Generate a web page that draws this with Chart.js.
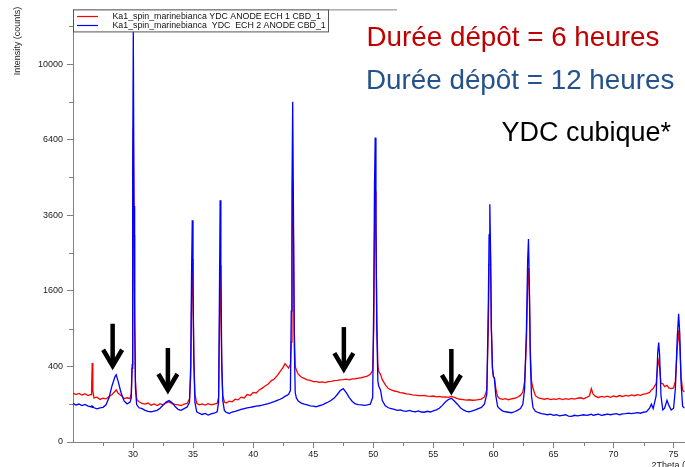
<!DOCTYPE html>
<html><head><meta charset="utf-8">
<script src="https://cdn.jsdelivr.net/npm/chart.js@4/dist/chart.umd.min.js"></script>
<style>html,body{margin:0;padding:0;background:#fff}canvas{display:block}</style>
</head><body>
<canvas id="c" width="685" height="467"></canvas>
<script>
// 2Theta positions (degrees)
const twoTheta = [
25.00,25.25,25.50,25.75,26.00,26.25,26.50,26.55,26.60,26.65,26.75,27.00,27.25,27.50,27.75,28.00,28.25,28.50,28.60,28.75,
29.00,29.25,29.50,29.75,29.85,29.92,29.97,30.02,30.08,30.13,30.20,30.30,30.50,30.75,31.00,31.25,31.50,31.75,32.00,32.25,
32.50,32.75,33.00,33.25,33.50,33.75,34.00,34.25,34.50,34.70,34.80,34.87,34.93,34.99,35.06,35.15,35.30,35.50,35.75,36.00,
36.25,36.50,36.75,37.00,37.12,37.19,37.25,37.31,37.38,37.47,37.60,37.75,38.00,38.25,38.50,38.75,39.00,39.25,39.50,39.75,
40.00,40.25,40.50,40.75,41.00,41.25,41.50,41.75,42.00,42.25,42.50,42.65,42.80,42.95,43.10,43.17,43.23,43.29,43.35,43.42,
43.50,43.60,43.75,44.00,44.25,44.50,44.75,45.00,45.25,45.50,45.75,46.00,46.25,46.50,46.75,47.00,47.25,47.50,47.75,48.00,
48.25,48.50,48.75,49.00,49.25,49.50,49.75,49.95,50.04,50.10,50.16,50.22,50.29,50.38,50.45,50.60,50.75,51.00,51.25,51.50,
51.75,52.00,52.25,52.50,52.75,53.00,53.25,53.50,53.75,54.00,54.25,54.50,54.75,55.00,55.25,55.50,55.75,56.00,56.25,56.50,
56.75,57.00,57.25,57.50,57.75,58.00,58.25,58.50,58.75,59.00,59.25,59.45,59.58,59.64,59.70,59.76,59.83,59.92,60.00,60.08,
60.20,60.35,60.50,60.75,61.00,61.25,61.50,61.75,62.00,62.25,62.45,62.60,62.75,62.85,62.92,62.99,63.07,63.17,63.30,63.50,
63.75,64.00,64.25,64.50,64.75,65.00,65.25,65.50,65.75,66.00,66.25,66.50,66.75,67.00,67.25,67.50,67.75,68.00,68.15,68.30,
68.50,68.75,69.00,69.25,69.50,69.75,70.00,70.25,70.50,70.75,71.00,71.25,71.50,71.75,72.00,72.25,72.50,72.75,73.00,73.15,
73.30,73.55,73.68,73.76,73.84,73.95,74.10,74.25,74.45,74.60,74.80,75.00,75.15,75.30,75.42,75.52,75.62,75.75,75.90
];
// Intensity (counts), deposition 6 h (red)
const counts6h = [
168,158,165,154,163,151,158,205,436,185,136,141,127,135,130,144,158,180,190,168,
152,132,137,131,165,420,2600,6900,3000,900,260,128,113,104,101,106,95,101,93,103,
97,107,112,103,99,96,93,101,104,130,300,1300,2344,1500,500,160,105,97,101,95,
103,97,101,104,140,800,2194,1400,400,150,112,106,117,113,128,124,141,136,158,152,
172,168,190,203,220,236,262,278,308,348,392,429,405,382,420,700,2600,4750,3200,900,
400,360,322,296,283,270,266,256,255,249,253,247,256,257,263,265,270,272,276,271,
279,280,285,289,297,304,321,360,900,2800,4400,3100,1100,420,350,320,272,228,200,190,
182,178,171,168,162,160,155,154,151,150,152,147,146,148,143,145,141,143,139,145,
139,132,128,126,123,125,122,123,126,129,142,190,900,2200,3054,2400,900,380,300,290,
200,145,133,127,132,125,130,134,140,152,175,260,700,1700,2120,1600,600,260,200,150,
136,132,128,133,126,130,127,133,126,131,127,133,129,134,137,131,139,150,200,160,
146,139,145,141,147,140,148,143,151,145,152,147,155,150,157,152,161,164,172,190,
200,240,420,466,380,240,239,215,225,205,200,205,260,600,870,650,300,190,175
];
// Intensity (counts), deposition 12 h (blue)
const counts12h = [
104,96,101,93,99,90,87,88,84,88,82,77,81,84,97,138,222,300,317,262,
170,118,102,111,135,380,5200,11800,3900,1400,200,98,82,78,70,66,64,67,70,80,
96,112,120,108,88,74,70,78,86,110,420,2000,3444,1900,450,110,64,58,53,57,
51,55,58,64,110,1500,4090,2200,500,120,70,62,57,63,66,70,74,78,82,84,
87,90,92,95,99,103,108,114,121,128,138,146,152,160,185,1200,4500,8100,3900,700,
170,135,118,106,100,96,91,90,87,92,96,104,112,122,135,158,185,200,170,138,
115,102,98,96,94,96,100,140,1500,4600,6485,3600,900,260,220,190,120,92,82,78,
74,70,72,68,66,70,66,64,68,63,62,66,63,68,72,80,94,112,126,134,
118,100,82,72,66,64,68,72,78,84,100,160,1400,3000,3956,2600,900,380,300,285,
150,88,78,68,64,62,60,64,70,78,100,200,900,2300,2882,1800,500,150,82,66,
60,56,54,52,54,50,52,48,50,52,47,46,50,48,50,52,50,52,54,50,
52,54,50,52,54,52,54,56,52,55,56,58,56,58,60,58,62,64,80,100,
78,150,560,692,520,150,72,80,122,95,72,80,200,750,1152,800,250,90,80
];
const seriesLabels = ['Ka1_spin_marinebianca YDC ANODE ECH 1 CBD_1', 'Ka1_spin_marinebianca  YDC  ECH 2 ANODE CBD_1'];
const xMajorTicks = [30,35,40,45,50,55,60,65,70,75];
const xMinorTicks = [27.5,32.5,37.5,42.5,47.5,52.5,57.5,62.5,67.5,72.5];
const yMajorTicks = [0,400,1600,3600,6400,10000];
const yMinorTicks = [100,900,2500,4900,8100,12100];
const arrowTheta = [28.3, 32.9, 47.55, 56.5];
const arrowTip = [386, 175, 352, 168];
const notes = ['Durée dépôt = 6 heures', 'Durée dépôt = 12 heures', 'YDC cubique*'];
const yTitle = 'Intensity (counts)';
const xTitle = '2Theta (°)';

const FONT = '"Liberation Sans", Arial, Helvetica, sans-serif';
Chart.defaults.font.family = FONT;

class SqrtScale extends Chart.LinearScale {
  getPixelForValue(value) {
    if (value === null || value === undefined || isNaN(value)) return NaN;
    const a = Math.sqrt(Math.max(this.min, 0)), b = Math.sqrt(this.max);
    return this.getPixelForDecimal((Math.sqrt(Math.max(value, 0)) - a) / (b - a));
  }
  getValueForPixel(pixel) {
    const a = Math.sqrt(Math.max(this.min, 0)), b = Math.sqrt(this.max);
    const s = a + this.getDecimalForPixel(pixel) * (b - a);
    return s * s;
  }
}
SqrtScale.id = 'sqrt';
SqrtScale.defaults = {};
Chart.register(SqrtScale);

const overlay = {
  id: 'overlay',
  afterDraw(chart) {
    const {ctx, chartArea: ca, scales: {x, y}} = chart;
    ctx.save();
    // minor ticks and partial top frame
    ctx.strokeStyle = '#808080';
    ctx.lineWidth = 1;
    ctx.beginPath();
    yMinorTicks.forEach(v => { const py = Math.round(y.getPixelForValue(v)) + 0.5; ctx.moveTo(ca.left - 4, py); ctx.lineTo(ca.left, py); });
    xMinorTicks.forEach(v => { const px = Math.round(x.getPixelForValue(v)) + 0.5; ctx.moveTo(px, ca.bottom); ctx.lineTo(px, ca.bottom + 4); });
    ctx.moveTo(ca.left, ca.top + 0.5); ctx.lineTo(397, ca.top + 0.5);
    ctx.stroke();

    // legend box
    const lw = 256, lh = 22;
    ctx.fillStyle = '#fff';
    ctx.fillRect(ca.left, ca.top, lw, lh);
    ctx.strokeStyle = '#555';
    ctx.strokeRect(ca.left + 0.5, ca.top + 0.5, lw - 1, lh);
    const colors = chart.data.datasets.map(d => d.borderColor);
    ctx.font = '8.8px ' + FONT;
    ctx.textBaseline = 'middle';
    ctx.textAlign = 'left';
    [ca.top + 6.5, ca.top + 15.7].forEach((ry, i) => {
      ctx.strokeStyle = colors[i];
      ctx.lineWidth = 1.2;
      ctx.beginPath();
      ctx.moveTo(ca.left + 4, Math.round(ry) + 0.5);
      ctx.lineTo(ca.left + 25, Math.round(ry) + 0.5);
      ctx.stroke();
      ctx.fillStyle = '#111';
      ctx.fillText(seriesLabels[i], ca.left + 39.5, ry + 0.5);
    });

    // arrows
    ctx.strokeStyle = '#000';
    ctx.lineWidth = 4.5;
    ctx.lineJoin = 'miter';
    arrowTheta.forEach((t, i) => {
      const px = x.getPixelForValue(t), py = y.getPixelForValue(arrowTip[i]);
      ctx.beginPath();
      ctx.moveTo(px, py - 44);
      ctx.lineTo(px, py - 3);
      ctx.stroke();
      ctx.beginPath();
      ctx.moveTo(px - 9.5, py - 18);
      ctx.lineTo(px, py - 2);
      ctx.lineTo(px + 9.5, py - 18);
      ctx.stroke();
    });

    // annotation texts
    ctx.textBaseline = 'alphabetic';
    ctx.font = '27.8px ' + FONT;
    ctx.fillStyle = '#C00000';
    ctx.fillText(notes[0], 366.5, 46);
    ctx.fillStyle = '#24528C';
    ctx.fillText(notes[1], 366, 88.5);
    ctx.font = '27px ' + FONT;
    ctx.fillStyle = '#000';
    ctx.fillText(notes[2], 501.5, 141);

    // axis titles
    ctx.font = '9px ' + FONT;
    ctx.fillStyle = '#222';
    ctx.fillText(xTitle, 651.5, 468);
    ctx.translate(17.5, 41);
    ctx.rotate(-Math.PI / 2);
    ctx.textAlign = 'center';
    ctx.textBaseline = 'middle';
    ctx.fillText(yTitle, 0, 0);
    ctx.restore();
  }
};

new Chart(document.getElementById('c'), {
  type: 'line',
  data: {
    datasets: [
      { label: seriesLabels[0], data: twoTheta.map((t, i) => ({x: t, y: counts6h[i]})),
        borderColor: '#ff0000', borderWidth: 1.3, pointRadius: 0, tension: 0, fill: false, order: 2 },
      { label: seriesLabels[1], data: twoTheta.map((t, i) => ({x: t, y: counts12h[i]})),
        borderColor: '#0000ff', borderWidth: 1.3, pointRadius: 0, tension: 0, fill: false, order: 1 }
    ]
  },
  options: {
    responsive: false,
    animation: false,
    events: [],
    layout: { padding: { top: 7, right: 0, left: 0, bottom: 0 } },
    plugins: { legend: { display: false }, tooltip: { enabled: false } },
    scales: {
      x: {
        type: 'linear', min: 25, max: 75.95,
        afterFit: s => { s.height = 25; },
        afterBuildTicks: s => { s.ticks = xMajorTicks.map(v => ({value: v})); },
        grid: { drawOnChartArea: false, tickLength: 6, tickColor: '#808080' },
        border: { color: '#808080', width: 1 },
        ticks: { font: { size: 9 }, color: '#222', padding: 1, maxRotation: 0, autoSkip: false, callback: v => String(v) }
      },
      y: {
        type: 'sqrt', min: 0, max: 13100,
        afterFit: s => { s.width = 73; },
        afterBuildTicks: s => { s.ticks = yMajorTicks.map(v => ({value: v})); },
        grid: { drawOnChartArea: false, tickLength: 6, tickColor: '#808080' },
        border: { color: '#808080', width: 1 },
        ticks: { font: { size: 9 }, color: '#222', padding: 4, autoSkip: false, callback: v => String(v) }
      }
    }
  },
  plugins: [overlay]
});
</script>
</body></html>
